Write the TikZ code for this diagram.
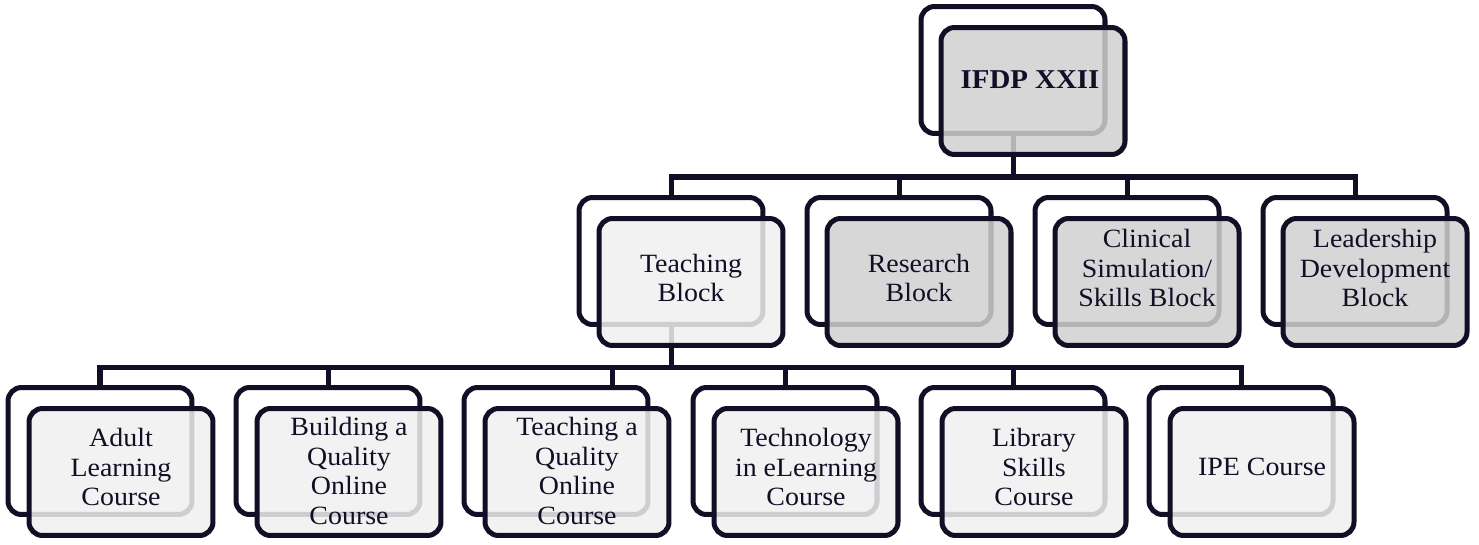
\documentclass[tikz,border=0pt]{standalone}
\usepackage{fontspec}
\setmainfont{Liberation Serif}[FakeStretch=1.06]
\usepackage{tikz}
\usetikzlibrary{calc}

\definecolor{ink}{RGB}{16,15,38}
\definecolor{greyfill}{RGB}{208,208,208}
\definecolor{lightfill}{RGB}{240,240,240}

\tikzset{
  back/.style={draw=ink,line width=2.85pt,rounded corners=0.27cm,fill=white,
    minimum width=3.68cm,minimum height=2.54cm,inner sep=0pt},
  front/.style={back,fill=#1,fill opacity=0.85},
  cardtext/.style={text=ink,align=center,inner sep=0pt,
    font=\fontsize{15}{16.8}\selectfont},
  link/.style={draw=ink,line width=2.85pt}
}

\begin{document}
\begin{tikzpicture}[x=0.02cm,y=-0.02cm]
\useasboundingbox (0,0) rectangle (1479,544);
% back frames
\node[back] (ifdp-b) at (1013,70) {};
\foreach \n/\x in {teach/671,res/899,clin/1127,lead/1355}
\node[back] (\n-b) at (\x,261) {};
\foreach \n/\x in {adult/100,build/328,tqoc/556,tech/785,lib/1013,ipe/1241}
\node[back] (\n-b) at (\x,451) {};
% connectors
\coordinate (bus1) at (0,177);
\coordinate (bus2) at (0,367);
\draw[link] (ifdp-b.south) -- (ifdp-b.south |- bus1);
\draw[link] (teach-b.north) -- (teach-b.north |- bus1) -- (lead-b.north |- bus1) -- (lead-b.north);
\foreach \n in {res,clin}
\draw[link] (\n-b.north) -- (\n-b.north |- bus1);
\draw[link] (teach-b.south) -- (teach-b.south |- bus2);
\draw[link] (adult-b.north) -- (adult-b.north |- bus2) -- (ipe-b.north |- bus2) -- (ipe-b.north);
\foreach \n in {build,tech,lib}
\draw[link] (\n-b.north) -- (\n-b.north |- bus2);
\coordinate (tqoc-c) at ($(tqoc-b.north)+(56,0)$);
\draw[link] (tqoc-c) -- (tqoc-c |- bus2);
% front cards
\node[front=greyfill] (ifdp) at (1033,91) {};
\node[cardtext,font=\fontsize{15.5}{18}\selectfont\bfseries] (ifdp-t) at ($(ifdp)+(-3,-11)$) {IFDP XXII};
\foreach \n/\x/\f/\dy/\t in {teach/691/lightfill/-4/Teaching\\Block,
  res/919/greyfill/-4/Research\\Block,
  clin/1147/greyfill/-14/Clinical\\Simulation\slash\\Skills Block,
  lead/1375/greyfill/-14/Leadership\\Development\\Block}{
\node[front=\f] (\n) at (\x,282) {};
\node[cardtext] (\n-t) at ($(\n)+(0,\dy)$) {\t};
}
\foreach \n/\x/\dy/\t in {adult/121/-5/Adult\\Learning\\Course,
  build/349/-1/Building a\\Quality\\Online\\Course,
  tqoc/577/-1/Teaching a\\Quality\\Online\\Course,
  tech/806/-5/Technology\\in eLearning\\Course,
  lib/1034/-5/Library\\Skills\\Course,
  ipe/1262/-5/IPE Course}{
\node[front=lightfill] (\n) at (\x,472) {};
\node[cardtext] (\n-t) at ($(\n)+(0,\dy)$) {\t};
}
\end{tikzpicture}
\end{document}
